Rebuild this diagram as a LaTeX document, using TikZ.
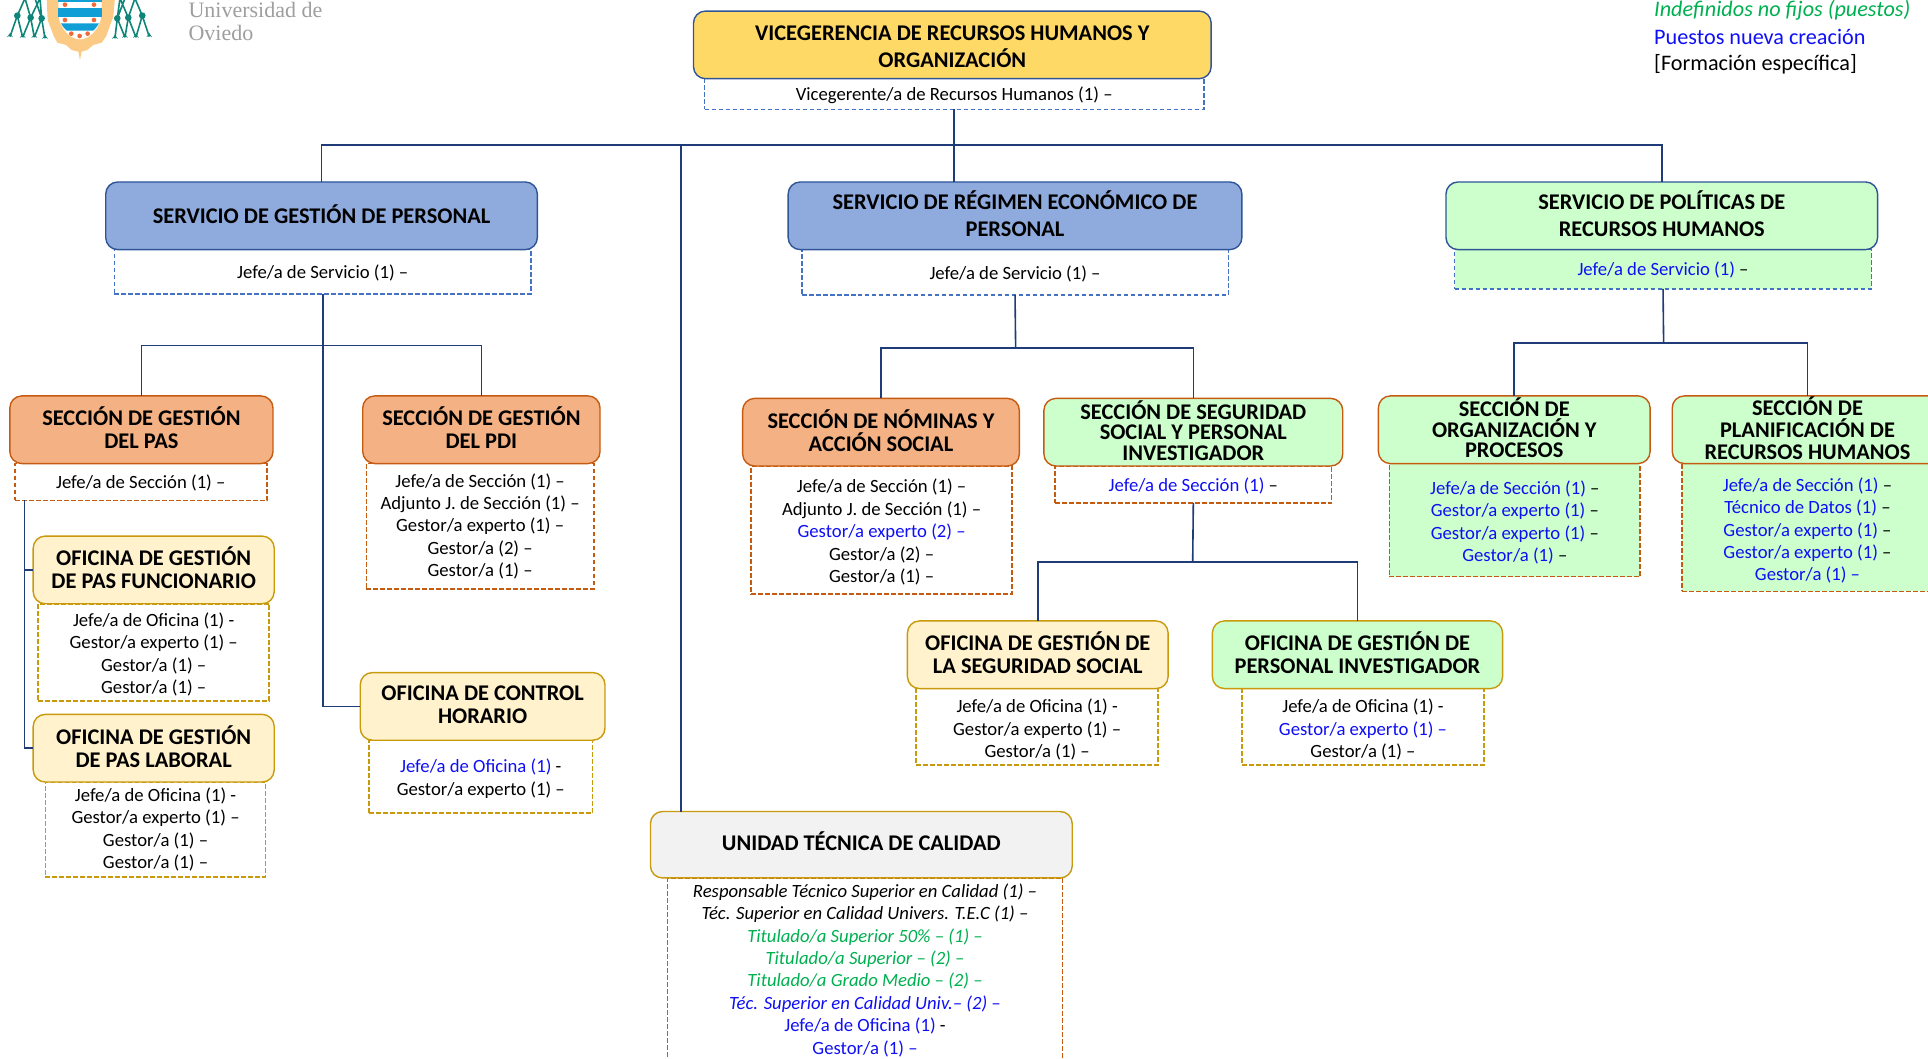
\documentclass[tikz,border=0pt]{standalone}
\usepackage{fontspec}
\setmainfont{Carlito}
\newfontfamily\logofont{Liberation Serif}
\definecolor{navy}{HTML}{1F3B78}
\definecolor{dblue}{HTML}{4472C4}
\definecolor{bluebd}{HTML}{2F5597}
\definecolor{orgbd}{HTML}{C55A11}
\definecolor{goldbd}{HTML}{C99A0C}
\definecolor{fyellow}{HTML}{FFD966}
\definecolor{fblue}{HTML}{8FAADC}
\definecolor{fgreen}{HTML}{CCFFCC}
\definecolor{forange}{HTML}{F4B183}
\definecolor{fcream}{HTML}{FFF2CC}
\definecolor{fgray}{HTML}{F2F2F2}
\definecolor{tblue}{HTML}{0F0FF5}
\definecolor{tgreen}{HTML}{00B050}
\definecolor{teal}{HTML}{0E8578}
\definecolor{shieldo}{HTML}{FBCB85}
\definecolor{shieldb}{HTML}{0F9FD6}
\definecolor{shieldr}{HTML}{EE6A3A}
\newcommand\tb[1]{\textcolor{tblue}{#1}}
\newcommand\tg[1]{\textcolor{tgreen}{#1}}
\newcommand\lowa{\rule{0pt}{9pt}}
\newcommand\lowb{\rule{0pt}{10pt}}
\newcommand\lowc{\rule{0pt}{10.8pt}}
\tikzset{
  conn/.style={draw=navy,line width=0.8pt},
  headbox/.style={draw,rounded corners=6pt,line width=0.7pt,inner sep=0pt,outer sep=0pt,align=center,text=black,font=\fontsize{11.2}{13.5}\selectfont\bfseries,execute at end node={\rule[-2pt]{0pt}{0pt}}},
  tightthree/.style={font=\fontsize{11.2}{10.2}\selectfont\bfseries},
  looserthree/.style={font=\fontsize{11.2}{11}\selectfont\bfseries},
  headsec/.style={font=\fontsize{11.2}{11.4}\selectfont\bfseries},
  body/.style={draw,dash pattern=on 2.4pt off 1.1pt,line width=0.8pt,inner sep=0pt,outer sep=0pt,align=center,text=black,font=\fontsize{9.35}{11.2}\selectfont,execute at begin node={\rule{0pt}{8pt}}},
  hblue/.style={headbox,fill=fblue,draw=bluebd},
  hyellow/.style={headbox,fill=fyellow,draw=bluebd},
  hgreenb/.style={headbox,fill=fgreen,draw=bluebd},
  hgreeno/.style={headbox,headsec,fill=fgreen,draw=orgbd},
  horange/.style={headbox,headsec,fill=forange,draw=orgbd},
  hcream/.style={headbox,headsec,fill=fcream,draw=goldbd},
  hgreeng/.style={headbox,headsec,fill=fgreen,draw=goldbd},
  hgray/.style={headbox,fill=fgray,draw=goldbd},
  dblu/.style={body,draw=dblue},
  dorg/.style={body,draw=orgbd},
  dgld/.style={body,draw=goldbd},
  legend/.style={anchor=west,inner sep=0pt,font=\fontsize{11.1}{13}\selectfont},
  logotext/.style={anchor=west,inner sep=0pt,text=black!38,font=\fontsize{11}{13}\logofont},
  tasl/.style={fill=teal,draw=none},
}
\newcommand\bx[7]{%
  \pgfmathsetmacro\bxcx{(#2+#4)/2}%
  \pgfmathsetmacro\bxcy{(#3+#5)/2}%
  \pgfmathsetmacro\bxw{(#4-#2)*0.6148}%
  \pgfmathsetmacro\bxh{(#5-#3)*0.6148}%
  \node[#6,minimum width=\bxw pt,minimum height=\bxh pt] (#1) at (\bxcx,\bxcy) {#7};}
\newcommand\tassel[2]{\fill[tasl] (#1,#2-11) -- (#1-9,#2+2) arc[start angle=200,end angle=340,x radius=9.5,y radius=6] -- cycle;}
\begin{document}
\begin{tikzpicture}[x=0.6148pt,y=-0.6148pt]
\useasboundingbox (0,0) rectangle (1568,861);
\clip (0,0) rectangle (1568,861);
% logo
\begin{scope}[x=0.16661pt,y=-0.16661pt]
  \draw[teal,line width=0.8pt]
    (52,47)--(30,110) (52,47)--(68,112) (92,53)--(68,112) (92,53)--(103,112) (125,55)--(103,112) (125,55)--(135,115)
    (75,-5)--(52,47) (75,-5)--(92,53) (120,-5)--(92,53) (120,-5)--(125,55) (105,-5)--(125,55)
    (427,47)--(448,110) (427,47)--(408,112) (385,53)--(408,112) (385,53)--(375,112) (352,55)--(375,112) (352,55)--(345,115)
    (405,-5)--(427,47) (405,-5)--(385,53) (360,-5)--(385,53) (360,-5)--(352,55) (375,-5)--(352,55);
  \foreach \p/\q in {30/110,68/112,103/112,135/115,345/115,375/112,408/112,448/110}{\tassel{\p}{\q}}
  \foreach \p/\q in {52/47,92/53,125/55,352/55,385/53,427/47}{\fill[tasl] (\p,\q) circle (10);}
  \fill[shieldo] (140,-5) -- (345,-5) -- (340,50) -- (318,110) -- (305,128) -- (280,135) -- (262,150) -- (245,155) -- (240,180) -- (235,155) -- (215,150) -- (198,135) -- (172,128) -- (162,110) -- (143,60) -- cycle;
  \fill[white] (175,-5) -- (305,-5) -- (305,45) .. controls (300,85) and (270,118) .. (240,118) .. controls (210,118) and (180,85) .. (175,45) -- cycle;
  \fill[shieldb] (175,-5) rectangle (305,5);
  \fill[shieldb] (175,25) rectangle (305,50);
  \fill[shieldb] (183,70) -- (297,70) .. controls (290,82) and (284,88) .. (280,92) -- (200,92) .. controls (195,88) and (190,82) .. cycle;
  \foreach \p/\q in {195/14,282/14,195/60,282/60,214/101,239/108,263/101}{\fill[shieldr] (\p,\q) circle (7);}
\end{scope}
\node[logotext] (uni1) at (153,8) {Universidad de};
\node[logotext] (uni2) at (153,27) {Oviedo};
% legend
\node[legend,text=tgreen,font=\fontsize{11.1}{13}\selectfont\itshape] (lg1) at (1345,8) {Indefinidos no fijos (puestos)};
\node[legend,text=tblue] (lg2) at (1345,30) {Puestos nueva creación};
\node[legend,text=black] (lg3) at (1345,52) {[Formación específica]};
% detail boxes
\bx{vd}{573}{64}{979}{89}{dblu}{Vicegerente/a de Recursos Humanos (1) –}
\bx{s1d}{93}{203}{432}{239}{dblu}{Jefe/a de Servicio (1) –}
\bx{s2d}{652}{203}{999}{240}{dblu}{Jefe/a de Servicio (1) –}
\bx{s3d}{1183}{203}{1522}{235}{dblu,fill=fgreen}{\tb{Jefe/a de Servicio (1)} –}
\bx{pasd}{12}{377}{217}{407}{dorg}{Jefe/a de Sección (1) –}
\bx{pdid}{298}{377}{483}{479}{dorg}{Jefe/a de Sección (1) –\\Adjunto J. de Sección (1) –\\Gestor/a experto (1) –\\Gestor/a (2) –\\Gestor/a (1) –}
\bx{nomd}{611}{379}{823}{483}{dorg}{\lowa Jefe/a de Sección (1) –\\Adjunto J. de Sección (1) –\\\tb{Gestor/a experto (2) –}\\Gestor/a (2) –\\Gestor/a (1) –}
\bx{segd}{858}{379}{1083}{409}{dorg}{\tb{Jefe/a de Sección (1)} –}
\bx{orgd}{1130}{377}{1334}{469}{dorg,fill=fgreen}{\lowa\tb{Jefe/a de Sección (1)} –\\\tb{Gestor/a experto (1)} –\\\tb{Gestor/a experto (1)} –\\\tb{Gestor/a (1)} –}
\bx{pland}{1368}{377}{1572}{481}{dorg,fill=fgreen}{\lowb\tb{Jefe/a de Sección (1)} –\\\tb{Técnico de Datos (1)} –\\\tb{Gestor/a experto (1)} –\\\tb{Gestor/a experto (1)} –\\\tb{Gestor/a (1) –}}
\bx{funcd}{31}{491}{219}{570}{dgld}{\lowa Jefe/a de Oficina (1) -\\Gestor/a experto (1) –\\Gestor/a (1) –\\Gestor/a (1) –}
\bx{labd}{37}{636}{216}{713}{dgld}{Jefe/a de Oficina (1) -\\Gestor/a experto (1) –\\Gestor/a (1) –\\Gestor/a (1) –}
\bx{ctrld}{300}{602}{482}{661}{dgld}{\lowa\tb{Jefe/a de Oficina (1)} -\\Gestor/a experto (1) –}
\bx{ssd}{745}{560}{942}{622}{dgld}{\lowb Jefe/a de Oficina (1) -\\Gestor/a experto (1) –\\Gestor/a (1) –}
\bx{pid}{1010}{560}{1207}{622}{dgld}{\lowb Jefe/a de Oficina (1) -\\\tb{Gestor/a experto (1) –}\\Gestor/a (1) –}
\bx{utcd}{543}{714}{864}{864}{dorg}{\itshape Responsable Técnico Superior en Calidad (1) –\\\itshape Téc. Superior en Calidad Univers. T.E.C (1) –\\\itshape\tg{Titulado/a Superior 50\% – (1) –}\\\itshape\tg{Titulado/a Superior – (2) –}\\\itshape\tg{Titulado/a Grado Medio – (2) –}\\\itshape\tb{Téc. Superior en Calidad Univ.– (2) –}\\\tb{Jefe/a de Oficina (1)} -\\\tb{Gestor/a (1) –}}
% header boxes
\bx{vh}{564}{9}{985}{64}{hyellow}{\lowc VICEGERENCIA DE RECURSOS HUMANOS Y\\ORGANIZACIÓN}
\bx{s1h}{86}{148}{437}{203}{hblue}{SERVICIO DE GESTIÓN DE PERSONAL}
\bx{s2h}{641}{148}{1010}{203}{hblue}{SERVICIO DE RÉGIMEN ECONÓMICO DE\\PERSONAL}
\bx{s3h}{1176}{148}{1527}{203}{hgreenb}{SERVICIO DE POLÍTICAS DE\\RECURSOS HUMANOS}
\bx{pash}{8}{322}{222}{377}{horange}{SECCIÓN DE GESTIÓN\\DEL PAS}
\bx{pdih}{295}{322}{488}{377}{horange}{SECCIÓN DE GESTIÓN\\DEL PDI}
\bx{nomh}{604}{324}{829}{379}{horange}{SECCIÓN DE NÓMINAS Y\\ACCIÓN SOCIAL}
\bx{segh}{849}{324}{1092}{379}{hgreeno,tightthree}{SECCIÓN DE SEGURIDAD\\SOCIAL Y PERSONAL\\INVESTIGADOR}
\bx{orgh}{1121}{322}{1342}{377}{hgreeno,tightthree}{SECCIÓN DE\\ORGANIZACIÓN Y\\PROCESOS}
\bx{planh}{1360}{322}{1580}{377}{hgreeno,looserthree}{SECCIÓN DE\\PLANIFICACIÓN DE\\RECURSOS HUMANOS}
\bx{funch}{27}{436}{223}{491}{hcream}{OFICINA DE GESTIÓN\\DE PAS FUNCIONARIO}
\bx{labh}{27}{581}{223}{636}{hcream}{OFICINA DE GESTIÓN\\DE PAS LABORAL}
\bx{ctrlh}{293}{547}{492}{602}{hcream}{OFICINA DE CONTROL\\HORARIO}
\bx{ssh}{738}{505}{950}{560}{hcream}{OFICINA DE GESTIÓN DE\\LA SEGURIDAD SOCIAL}
\bx{pih}{986}{505}{1222}{560}{hgreeng}{OFICINA DE GESTIÓN DE\\PERSONAL INVESTIGADOR}
\bx{utch}{529}{660}{872}{714}{hgray}{UNIDAD TÉCNICA DE CALIDAD\rule[-4pt]{0pt}{0pt}}
% connectors
\coordinate (busA) at (776,118);
\coordinate (busU) at (554,118);
\coordinate (busS1) at (263,281);
\coordinate (busS2) at (826,283);
\coordinate (busS3) at (1353,279);
\coordinate (busSeg) at (970,457);
\coordinate (busPas) at (20,407);
\draw[conn] (vd.south) -- (s2h.north -| vd.south);
\draw[conn] (s1h.north) |- (busA) -| (s3h.north);
\draw[conn] (busU) -- (utch.north -| busU);
\draw[conn] (s1d.south) -- (ctrlh.west -| s1d.south) -- (ctrlh.west);
\draw[conn] (pash.north) |- (busS1) -| (pdih.north);
\draw[conn] (s2d.south) -- (busS2);
\draw[conn] (nomh.north) |- (busS2) -| (segh.north);
\draw[conn] (s3d.south) -- (busS3);
\draw[conn] (orgh.north) |- (busS3) -| (planh.north);
\draw[conn] (segd.south) -- (busSeg);
\draw[conn] (ssh.north) |- (busSeg) -| (pih.north);
\draw[conn] (busPas) |- (labh.west);
\draw[conn] (busPas |- funch.west) -- (funch.west);
\end{tikzpicture}
\end{document}
